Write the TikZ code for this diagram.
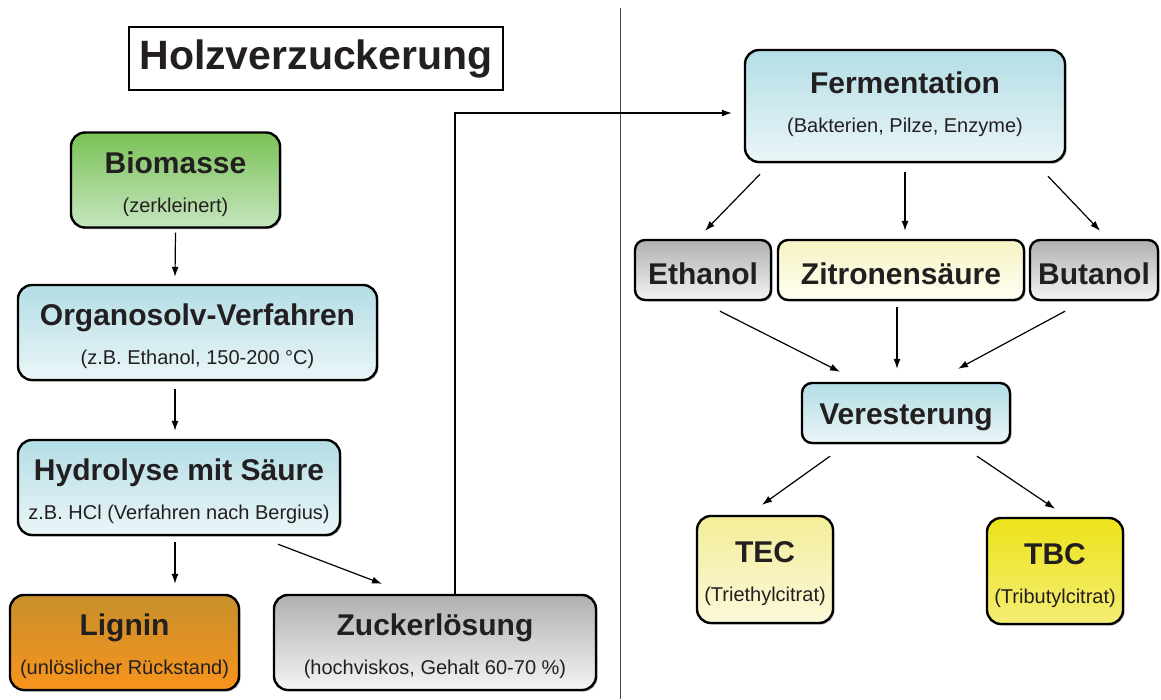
\documentclass[tikz,border=0pt]{standalone}
\usepackage{fontspec}
\setmainfont{Liberation Sans}
\usetikzlibrary{arrows.meta, shadows}

\definecolor{schrift}{HTML}{231F20}
\definecolor{blauO}{HTML}{B3DDE5}
\definecolor{blauU}{HTML}{EBF6F8}
\definecolor{gruenO}{HTML}{7AC257}
\definecolor{gruenU}{HTML}{C6E5BF}
\definecolor{orangeO}{HTML}{C78F2C}
\definecolor{orangeU}{HTML}{F8941C}
\definecolor{grauO}{HTML}{AEB0B2}
\definecolor{grauU}{HTML}{F4F4F4}
\definecolor{zitO}{HTML}{F6F3C2}
\definecolor{zitU}{HTML}{FFFFF4}
\definecolor{tecO}{HTML}{F3ED98}
\definecolor{tecU}{HTML}{FBF9DA}
\definecolor{tbcO}{HTML}{EDE31A}
\definecolor{tbcU}{HTML}{F4ED74}

\newcommand{\kopf}[1]{{\fontsize{30}{39}\selectfont\bfseries\rule{0pt}{30pt}#1}}

\tikzset{
  box/.style={draw, line width=2.4pt, rounded corners=14pt, inner sep=0pt, align=center,
    text=schrift, font=\fontsize{20}{39}\selectfont,
    drop shadow={shadow xshift=1.5pt, shadow yshift=-1.5pt, opacity=0.3, fill=black}},
  kbox/.style={box, rounded corners=10pt},
  blau/.style={top color=blauO, bottom color=blauU},
  grau/.style={top color=grauO, bottom color=grauU},
  pfeil/.style={-{Latex[length=10pt,width=7pt]}, line width=1.2pt},
}

\begin{document}
\begin{tikzpicture}[x=1pt, y=-1pt]
    \useasboundingbox (0,0) rectangle (1161,699);

    % Trennlinie
    \draw[line width=1pt, black!70] (620,8) -- (620,699);

    \node[draw, line width=2pt, minimum width=374pt, minimum height=63pt, text=schrift,
          font=\fontsize{41}{48}\selectfont\bfseries] (titel) at (316,58.5) {Holzverzuckerung};

    % linke Seite
    \node[box, top color=gruenO, bottom color=gruenU, minimum width=209pt, minimum height=95pt]
        (bio) at (175.5,180) {\kopf{Biomasse}\\(zerkleinert)};
    \node[box, blau, minimum width=359pt, minimum height=95pt]
        (org) at (197.5,332.5) {\kopf{Organosolv-Verfahren}\\(z.B. Ethanol, 150-200 °C)};
    \node[box, blau, minimum width=322pt, minimum height=95pt]
        (hyd) at (179,487.5) {\kopf{Hydrolyse mit Säure}\\z.B. HCl (Verfahren nach Bergius)};
    \node[box, top color=orangeO, bottom color=orangeU, minimum width=229pt, minimum height=95pt]
        (lig) at (124.5,642.5) {\kopf{Lignin}\\(unlöslicher Rückstand)};
    \node[box, grau, minimum width=322pt, minimum height=95pt]
        (zuc) at (435,642.5) {\kopf{Zuckerlösung}\\(hochviskos, Gehalt 60-70 \%)};

    % rechte Seite
    \node[box, blau, minimum width=320pt, minimum height=112pt]
        (ferm) at (905,106) {\kopf{Fermentation}\\(Bakterien, Pilze, Enzyme)\rule[-16pt]{0pt}{0pt}};
    \node[kbox, grau, minimum width=136pt, minimum height=60pt]
        (eth) at (703,270) {\kopf{Ethanol}};
    \node[kbox, top color=zitO, bottom color=zitU, minimum width=246pt, minimum height=60pt]
        (zit) at (901,270) {\kopf{Zitronensäure}};
    \node[kbox, grau, minimum width=128pt, minimum height=60pt]
        (but) at (1094,270) {\kopf{Butanol}};
    \node[kbox, blau, minimum width=208pt, minimum height=60pt]
        (ver) at (906,413) {\kopf{Veresterung}};
    \node[box, top color=tecO, bottom color=tecU, minimum width=136pt, minimum height=107pt]
        (tec) at (765,569.5) {\kopf{TEC}\\(Triethylcitrat)};
    \node[box, top color=tbcO, bottom color=tbcU, minimum width=136pt, minimum height=106pt]
        (tbc) at (1055,571) {\kopf{TBC}\\(Tributylcitrat)};

    % Pfeile
    \draw[pfeil] ([shift={(0,4)}]bio.south) -- ([shift={(-22.5,-7)}]org.north);
    \draw[pfeil] ([shift={(-22.5,8)}]org.south) -- ([shift={(-4,-8)}]hyd.north);
    \draw[pfeil] ([shift={(-4,6)}]hyd.south) -- ([shift={(50.5,-10)}]lig.north);
    \draw[pfeil] ([shift={(99,8)}]hyd.south) -- ([shift={(-53,-10)}]zuc.north);
    \draw[pfeil] ([xshift=20pt]zuc.north) |- ([shift={(-12,7)}]ferm.west);

    \draw[pfeil] ([shift={(-145,11)}]ferm.south) -- ([shift={(2,-8)}]eth.north);
    \draw[pfeil] ([shift={(0,9)}]ferm.south) -- ([shift={(4,-8)}]zit.north);
    \draw[pfeil] ([shift={(143,13)}]ferm.south) -- ([shift={(6,-8)}]but.north);

    \draw[pfeil] ([shift={(17,10)}]eth.south) -- ([shift={(-66,-10)}]ver.north);
    \draw[pfeil] ([shift={(-4,6)}]zit.south) -- ([shift={(-9,-13)}]ver.north);
    \draw[pfeil] ([shift={(-29,10)}]but.south) -- ([shift={(52,-13)}]ver.north);

    \draw[pfeil] ([shift={(-76,12)}]ver.south) -- ([shift={(-3,-10)}]tec.north);
    \draw[pfeil] ([shift={(71,12)}]ver.south) -- ([shift={(0,-8)}]tbc.north);
  \end{tikzpicture}
\end{document}
